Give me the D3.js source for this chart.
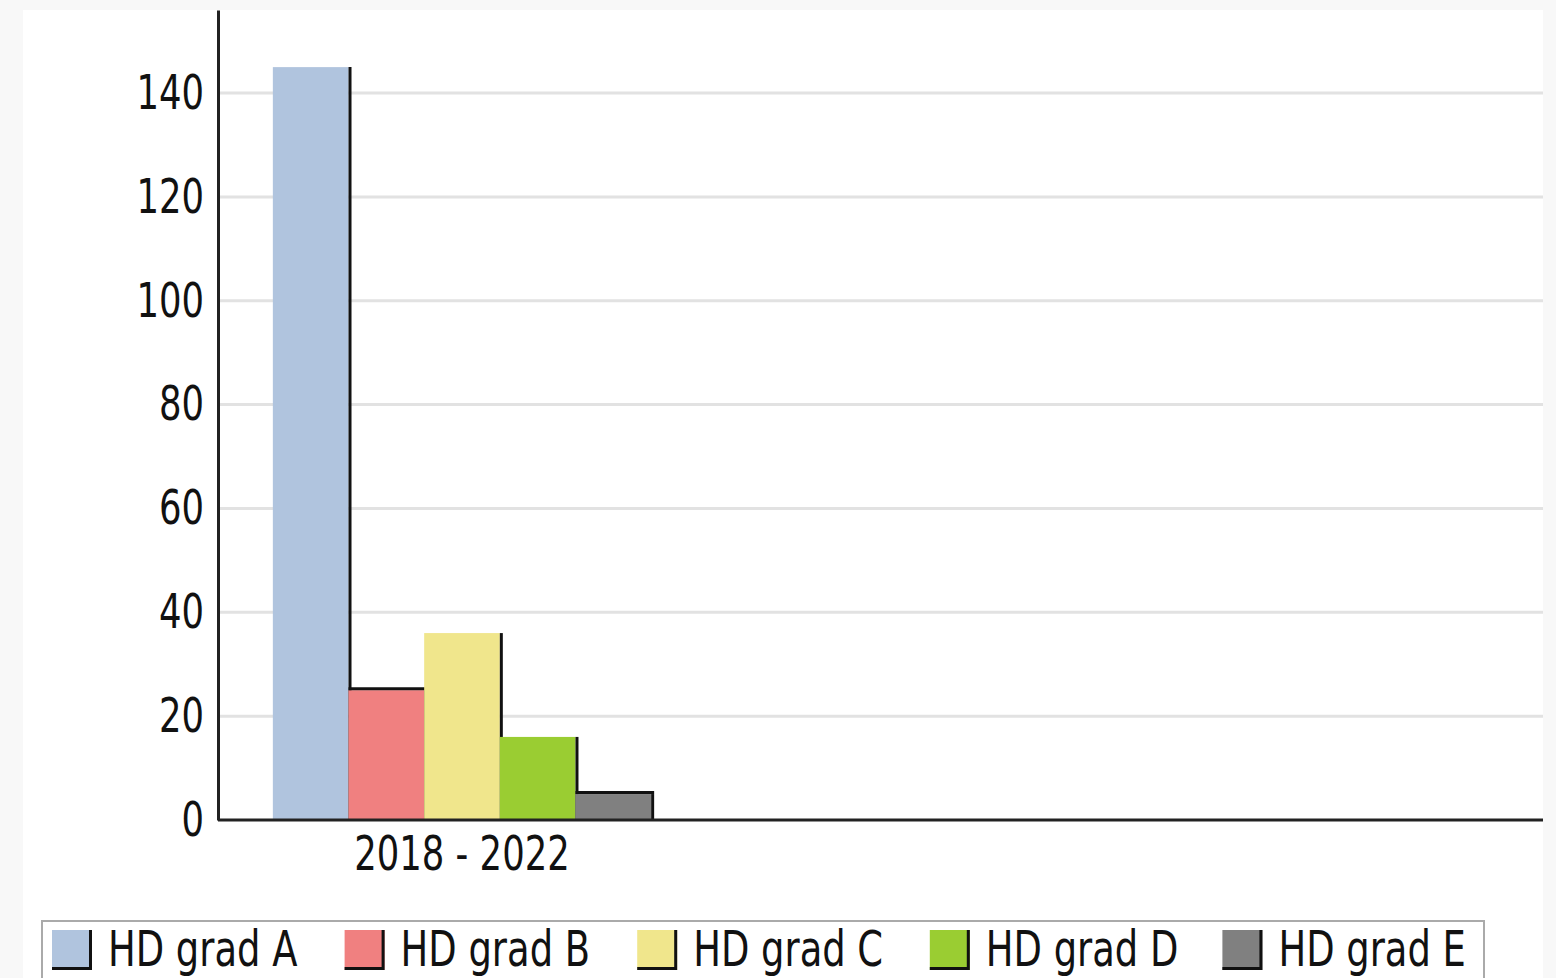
<!DOCTYPE html>
<html>
<head>
<meta charset="utf-8">
<script src="https://cdn.jsdelivr.net/npm/d3@7"></script>
<style>
  html, body { margin: 0; padding: 0; background: #f8f8f8; }
  svg { display: block; }
  text { font-family: "DejaVu Sans Condensed", "Liberation Sans Narrow", sans-serif; fill: #111; }
</style>
</head>
<body>
<script>
// data
const categories = ['2018 - 2022'];
const series = ['HD grad A', 'HD grad B', 'HD grad C', 'HD grad D', 'HD grad E'];
const values = [145, 25, 36, 16, 5];
const colors = ['#b0c4de', '#f08080', '#f0e68c', '#9acd32', '#808080'];
const yTicks = [0, 20, 40, 60, 80, 100, 120, 140];
const yMax = 156;

const W = 1556, H = 978;
const margin = {top: 10, right: 13, bottom: 158, left: 218};
const plotW = W - margin.left - margin.right;
const plotH = H - margin.top - margin.bottom;
const sx = 0.82; // squeeze text, the original font is narrow

const svg = d3.select(document.body).append('svg')
  .attr('width', W).attr('height', H);

// white chart panel
svg.append('rect')
  .attr('x', 23).attr('y', margin.top)
  .attr('width', W - margin.right - 23).attr('height', H - margin.top)
  .attr('fill', '#fff');

const g = svg.append('g').attr('transform', `translate(${margin.left},${margin.top})`);

const y = d3.scaleLinear().domain([0, yMax]).range([plotH, 0]);
const x0 = d3.scaleBand().domain(categories).range([0, 488]).paddingOuter(0.145);
const x1 = d3.scaleBand().domain(series).range([0, x0.bandwidth()]);

// grid
g.append('g').selectAll('line')
  .data(yTicks.filter(d => d > 0))
  .join('line')
  .attr('x1', 0).attr('x2', plotW)
  .attr('y1', d => y(d)).attr('y2', d => y(d))
  .attr('stroke', '#e2e2e2').attr('stroke-width', 3);

// bars, each with its dark edge
const rows = series.map((s, i) => ({cat: categories[0], s, v: values[i], c: colors[i], i}));
const bars = g.append('g').selectAll('g')
  .data(rows)
  .join('g')
  .attr('transform', d => `translate(${x0(d.cat)},0)`);

bars.append('rect')
  .attr('x', d => x1(d.s))
  .attr('y', d => y(d.v))
  .attr('width', x1.bandwidth())
  .attr('height', d => y(0) - y(d.v))
  .attr('fill', d => d.c);

bars.append('line')
  .attr('x1', d => x1(d.s) + x1.bandwidth() + 1.5)
  .attr('x2', d => x1(d.s) + x1.bandwidth() + 1.5)
  .attr('y1', d => y(d.v))
  .attr('y2', y(0))
  .attr('stroke', '#111').attr('stroke-width', 3);

bars.filter(d => d.i > 0 && d.v < values[d.i - 1] && (d.i === values.length - 1 || d.v < values[d.i + 1]))
  .append('line')
  .attr('x1', d => x1(d.s))
  .attr('x2', d => x1(d.s) + x1.bandwidth() + 3)
  .attr('y1', d => y(d.v) - 1.5)
  .attr('y2', d => y(d.v) - 1.5)
  .attr('stroke', '#111').attr('stroke-width', 3);

// y axis
const yAxis = d3.axisLeft(y).tickValues(yTicks).tickSize(0).tickSizeOuter(0).tickPadding(14);
const ya = g.append('g').call(yAxis);
ya.select('.domain').attr('stroke', '#222').attr('stroke-width', 3);
ya.selectAll('text')
  .attr('font-size', 48).attr('fill', '#111')
  .attr('x', -14 / sx)
  .attr('transform', `scale(${sx},1)`)
  .style('font-family', '"DejaVu Sans Condensed", sans-serif');

// x axis
const xAxis = d3.axisBottom(x0).tickSize(0).tickPadding(16);
const xa = g.append('g').attr('transform', `translate(0,${plotH})`).call(xAxis);
xa.select('.domain').remove();
xa.selectAll('text')
  .attr('font-size', 48).attr('fill', '#111')
  .attr('transform', `scale(${sx},1)`)
  .style('font-family', '"DejaVu Sans Condensed", sans-serif');
g.append('line')
  .attr('x1', 0).attr('x2', plotW)
  .attr('y1', plotH).attr('y2', plotH)
  .attr('stroke', '#222').attr('stroke-width', 3);

// legend
const legend = svg.append('g');
legend.append('rect')
  .attr('x', 42).attr('y', 921).attr('width', 1442).attr('height', 70)
  .attr('fill', '#fff').attr('stroke', '#aaa').attr('stroke-width', 2);

const lx = d3.scaleBand().domain(series).range([47, 47 + 5 * 292.6]);
const items = legend.selectAll('g.item')
  .data(rows)
  .join('g')
  .attr('class', 'item')
  .attr('transform', d => `translate(${lx(d.s) + 5},930)`);

items.append('rect')
  .attr('width', 40).attr('height', 40)
  .attr('fill', d => d.c);
items.append('path')
  .attr('d', 'M38.5,0 V38.5 H0')
  .attr('fill', 'none').attr('stroke', '#111').attr('stroke-width', 3);
items.append('text')
  .attr('x', 56 / sx).attr('y', 36)
  .attr('transform', `scale(${sx},1)`)
  .attr('font-size', 50)
  .text(d => d.s);
</script>
</body>
</html>
